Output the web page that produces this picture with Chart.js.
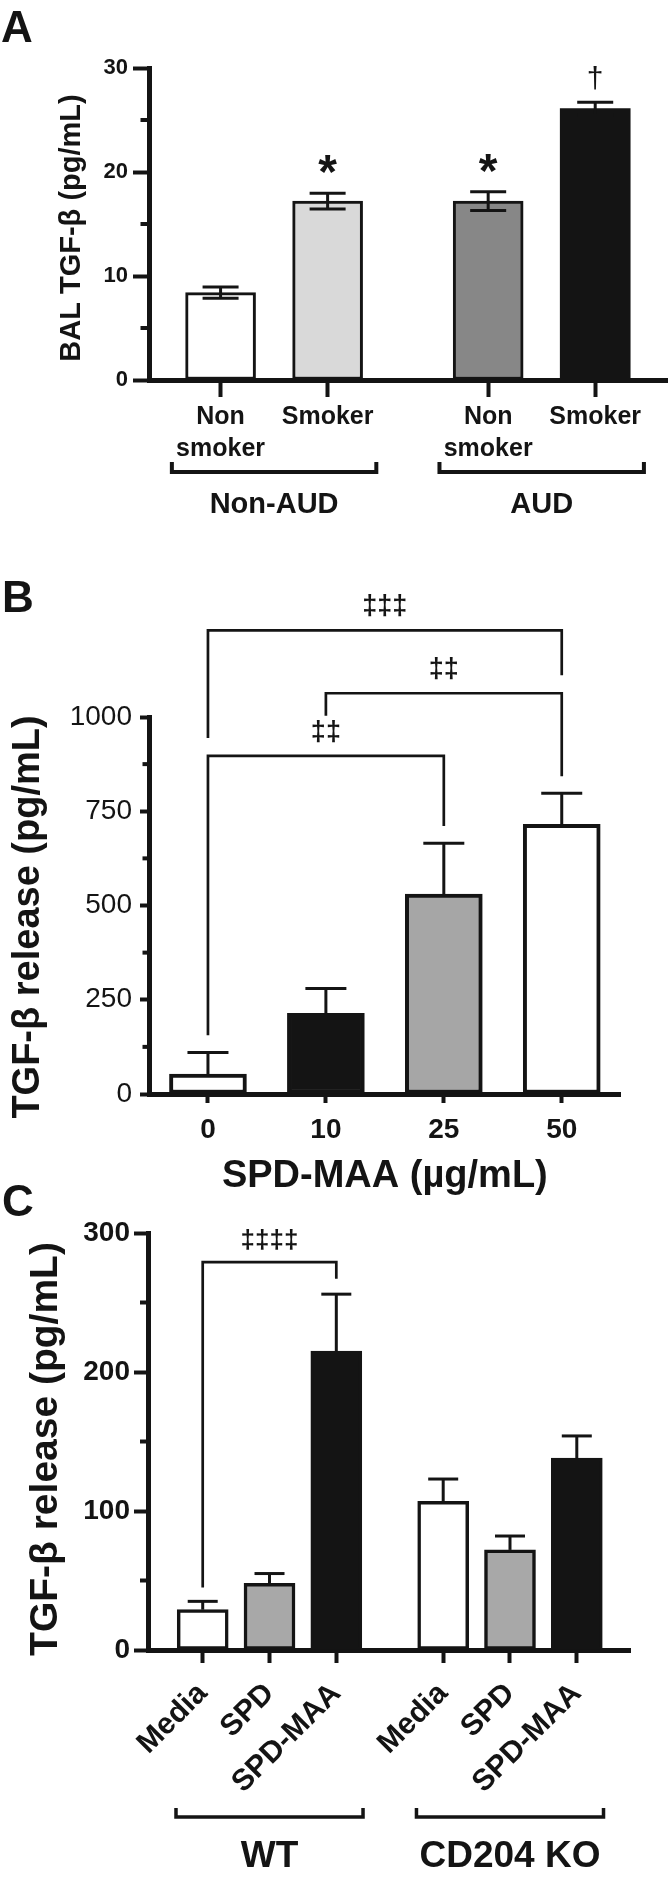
<!DOCTYPE html>
<html>
<head>
<meta charset="utf-8">
<script src="https://cdn.jsdelivr.net/npm/chart.js@4"></script>
<style>
  body { margin: 0; background: #fff; }
  #page { position: relative; width: 668px; height: 1882px; }
  canvas { position: absolute; left: 0; }
</style>
</head>
<body>
<div id="page">
  <canvas id="chartA" width="668" height="560" style="top:0"></canvas>
  <canvas id="chartB" width="668" height="650" style="top:560px"></canvas>
  <canvas id="chartC" width="668" height="702" style="top:1180px"></canvas>
</div>
<script>
// ---- panel A: BAL TGF-beta
const aCats = ['Non smoker', 'Smoker', 'Non smoker', 'Smoker'];
const aGroupOf = [0, 0, 1, 1];
const aGroups = ['Non-AUD', 'AUD'];
const aMean = [8.4, 17.2, 17.2, 26.1];
const aSem = [0.55, 0.75, 0.9, 0.6];
const aSig = ['', '*', '*', '†'];

// ---- panel B: SPD-MAA dose
const bDose = ['0', '10', '25', '50'];
const bMean = [53, 214, 530, 715];
const bSem = [57, 66, 135, 83];
const bFrom = [0, 1, 0];
const bTo = [3, 3, 2];
const bLevel = [1230, 1063, 897];
const bLegs = [[944, 1111], [1003, 843], [156, 711]];
const bMarks = ['‡‡‡', '‡‡', '‡‡'];

// ---- panel C: WT vs CD204 KO
const cCats = ['Media', 'SPD', 'SPD-MAA', 'Media', 'SPD', 'SPD-MAA'];
const cGroupOf = [0, 0, 0, 1, 1, 1];
const cGroups = ['WT', 'CD204 KO'];
const cMean = [29, 48, 215, 107, 72, 138];
const cSem = [6, 7, 41, 16, 10, 16];
const cFrom = [0];
const cTo = [2];
const cLevel = [279];
const cLegs = [[45, 267]];
const cMarks = ['‡‡‡‡'];

const ink = '#141414';
const FONT = "'Liberation Sans', Arial, Helvetica, sans-serif";
Chart.defaults.font.family = FONT;
Chart.defaults.color = ink;

// x positions on a linear axis: one unit per bar, plus a gap between groups
const aPos = aCats.map((c, i) => i + aGroupOf[i] * 0.5);
const cPos = cCats.map((c, i) => i + cGroupOf[i] * 0.6);

function line(ctx, x1, y1, x2, y2) {
  ctx.beginPath(); ctx.moveTo(x1, y1); ctx.lineTo(x2, y2); ctx.stroke();
}
// draw text so that its glyph bottom sits at y
function textAbove(ctx, s, x, y) {
  const m = ctx.measureText(s);
  ctx.fillText(s, x, y - m.actualBoundingBoxDescent);
}

const decor = {
  id: 'decor',
  afterDraw(chart, args, o) {
    const ctx = chart.ctx;
    const xs = chart.scales.x, ys = chart.scales.y;
    const bars = chart.getDatasetMeta(0).data;
    ctx.save();
    ctx.strokeStyle = ink; ctx.fillStyle = ink;

    // minor y ticks
    ctx.lineWidth = 4;
    o.minor.forEach(v => {
      const y = ys.getPixelForValue(v);
      line(ctx, xs.left - o.minorLen, y, xs.left, y);
    });

    // error bars
    ctx.lineWidth = 3;
    o.sem.forEach((e, i) => {
      const x = bars[i].x, m = o.mean[i];
      const top = ys.getPixelForValue(m + e);
      const low = ys.getPixelForValue(o.both ? m - e : m);
      line(ctx, x, top, x, low);
      line(ctx, x - o.cap / 2, top, x + o.cap / 2, top);
      if (o.both) line(ctx, x - o.cap / 2, low, x + o.cap / 2, low);
    });

    // significance symbols over single bars
    ctx.textAlign = 'center';
    (o.sig || []).forEach((s, i) => {
      if (!s) return;
      const top = ys.getPixelForValue(o.mean[i] + o.sem[i]);
      ctx.font = s === '*' ? 'bold 48px ' + FONT : '30px ' + FONT;
      textAbove(ctx, s, bars[i].x, top - (s === '*' ? 20 : 12));
    });

    // comparison brackets
    if (o.pairs) {
      const p = o.pairs;
      ctx.lineWidth = 2.7;
      ctx.font = 'bold ' + p.size + 'px ' + FONT;
      p.from.forEach((f, k) => {
        const x1 = bars[f].x, x2 = bars[p.to[k]].x;
        const y = ys.getPixelForValue(p.level[k]);
        ctx.beginPath();
        ctx.moveTo(x1, ys.getPixelForValue(p.legs[k][0]));
        ctx.lineTo(x1, y); ctx.lineTo(x2, y);
        ctx.lineTo(x2, ys.getPixelForValue(p.legs[k][1]));
        ctx.stroke();
        textAbove(ctx, p.marks[k], (x1 + x2) / 2, y - p.gap);
      });
    }

    // group brackets under the axis
    if (o.groups) {
      const g = o.groups;
      ctx.lineWidth = g.width;
      ctx.font = 'bold ' + g.size + 'px ' + FONT;
      g.names.forEach((name, k) => {
        const idx = g.of.map((v, i) => v === k ? i : -1).filter(i => i >= 0);
        const x1 = xs.getPixelForValue(g.pos[idx[0]] - g.reach);
        const x2 = xs.getPixelForValue(g.pos[idx[idx.length - 1]] + g.reach);
        ctx.beginPath();
        ctx.moveTo(x1, g.legTop); ctx.lineTo(x1, g.lineY);
        ctx.lineTo(x2, g.lineY); ctx.lineTo(x2, g.legTop);
        ctx.stroke();
        ctx.fillText(name, (x1 + x2) / 2, g.labelY);
      });
    }

    // axis titles
    ctx.textBaseline = 'middle';
    ctx.font = 'bold ' + o.yTitle.size + 'px ' + FONT;
    ctx.save();
    ctx.translate(o.yTitle.x, o.yTitle.y);
    ctx.rotate(-Math.PI / 2);
    ctx.fillText(o.yTitle.text, 0, 0);
    ctx.restore();
    if (o.xTitle) {
      ctx.textBaseline = 'alphabetic';
      ctx.font = 'bold ' + o.xTitle.size + 'px ' + FONT;
      ctx.fillText(o.xTitle.text, (xs.left + xs.right) / 2, o.xTitle.y);
    }

    // panel letter
    ctx.textBaseline = 'alphabetic';
    ctx.textAlign = 'left';
    ctx.font = 'bold 44px ' + FONT;
    ctx.fillText(o.letter.text, o.letter.x, o.letter.y);
    ctx.restore();
  }
};

function yAxis(max, step, width, tickLen, pad, font) {
  return {
    min: 0, max: max,
    afterFit: s => { s.width = width; },
    ticks: { stepSize: step, padding: pad, font: font, color: ink, callback: v => String(v) },
    grid: { drawOnChartArea: false, tickLength: tickLen, tickWidth: 4, tickColor: ink },
    border: { width: 5, color: ink }
  };
}

const baseOpts = {
  responsive: false,
  animation: false,
  events: [],
  plugins: { legend: { display: false }, tooltip: { enabled: false } }
};

// ---------- A ----------
new Chart(document.getElementById('chartA'), {
  type: 'bar',
  data: {
    datasets: [{
      data: aMean.map((m, i) => ({ x: aPos[i], y: m })),
      backgroundColor: ['#ffffff', '#d9d9d9', '#878787', '#141414'],
      borderColor: ink,
      borderWidth: [3, 3, 3, 0],
      borderSkipped: false,
      barThickness: 70
    }]
  },
  options: Object.assign({}, baseOpts, {
    layout: { padding: { top: 68, left: 0, right: 0, bottom: 0 } },
    scales: {
      x: {
        type: 'linear', min: -0.664, max: 4.18, offset: false,
        afterBuildTicks: s => { s.ticks = aPos.map(v => ({ value: v })); },
        afterFit: s => { s.height = 180; s.paddingLeft = 0; s.paddingRight = 0; },
        ticks: {
          autoSkip: false, maxRotation: 0, padding: 4, color: ink,
          font: { size: 25, weight: 'bold', lineHeight: 1.28 },
          callback: (v, i) => aCats[i].split(' ')
        },
        grid: { drawOnChartArea: false, offset: false, tickLength: 17, tickWidth: 4, tickColor: ink },
        border: { width: 5, color: ink }
      },
      y: yAxis(30, 10, 149.5, 16.5, 5, { size: 22, weight: 'bold' })
    },
    plugins: Object.assign({}, baseOpts.plugins, {
      decor: {
        minor: [5, 15, 25], minorLen: 9,
        mean: aMean, sem: aSem, both: true, cap: 36,
        sig: aSig,
        groups: { names: aGroups, of: aGroupOf, pos: aPos, reach: 0.455,
                  lineY: 472, legTop: 462, labelY: 513, size: 29, width: 4 },
        yTitle: { text: 'BAL TGF-β (pg/mL)', x: 72, y: 228, size: 29 },
        letter: { text: 'A', x: 1, y: 42 }
      }
    })
  }),
  plugins: [decor]
});

// ---------- B ----------
new Chart(document.getElementById('chartB'), {
  type: 'bar',
  data: {
    labels: bDose,
    datasets: [{
      data: bMean,
      backgroundColor: ['#ffffff', '#141414', '#a6a6a6', '#ffffff'],
      borderColor: ink,
      borderWidth: 4,
      borderSkipped: false,
      barThickness: 77
    }]
  },
  options: Object.assign({}, baseOpts, {
    layout: { padding: { top: 157, left: 0, right: 47.3, bottom: 0 } },
    scales: {
      x: {
        afterFit: s => { s.height = 116; s.paddingLeft = 0; s.paddingRight = 0; },
        ticks: { padding: 10, color: ink, font: { size: 28, weight: 'bold' } },
        grid: { drawOnChartArea: false, offset: false, tickLength: 9, tickWidth: 4, tickColor: ink },
        border: { width: 5, color: ink }
      },
      y: yAxis(1000, 250, 149, 9, 8, { size: 28, weight: 'normal' })
    },
    plugins: Object.assign({}, baseOpts.plugins, {
      decor: {
        minor: [125, 375, 625, 875], minorLen: 6.5,
        mean: bMean, sem: bSem, both: false, cap: 41,
        pairs: { from: bFrom, to: bTo, level: bLevel, legs: bLegs, marks: bMarks, size: 27, gap: 13 },
        yTitle: { text: 'TGF-β release (pg/mL)', x: 29, y: 357, size: 38 },
        xTitle: { text: 'SPD-MAA (µg/mL)', y: 627, size: 38 },
        letter: { text: 'B', x: 2, y: 52 }
      }
    })
  }),
  plugins: [decor]
});

// ---------- C ----------
new Chart(document.getElementById('chartC'), {
  type: 'bar',
  data: {
    datasets: [{
      data: cMean.map((m, i) => ({ x: cPos[i], y: m })),
      backgroundColor: ['#ffffff', '#a8a8a8', '#141414', '#ffffff', '#a8a8a8', '#141414'],
      borderColor: ink,
      borderWidth: 3.5,
      borderSkipped: false,
      barThickness: 51
    }]
  },
  options: Object.assign({}, baseOpts, {
    layout: { padding: { top: 53, left: 0, right: 37.5, bottom: 0 } },
    scales: {
      x: {
        type: 'linear', min: -0.819, max: 6.404, offset: false,
        afterBuildTicks: s => { s.ticks = cPos.map(v => ({ value: v })); },
        afterFit: s => { s.height = 232; s.paddingLeft = 0; s.paddingRight = 0; },
        ticks: {
          autoSkip: false, minRotation: 45, maxRotation: 45, padding: 13, color: ink,
          font: { size: 30, weight: 'bold' },
          callback: (v, i) => cCats[i]
        },
        grid: { drawOnChartArea: false, offset: false, tickLength: 13, tickWidth: 4, tickColor: ink },
        border: { width: 5, color: ink }
      },
      y: yAxis(300, 100, 148, 14, 4, { size: 28, weight: 'bold' })
    },
    plugins: Object.assign({}, baseOpts.plugins, {
      decor: {
        minor: [50, 150, 250], minorLen: 8,
        mean: cMean, sem: cSem, both: false, cap: 30,
        pairs: { from: cFrom, to: cTo, level: cLevel, legs: cLegs, marks: cMarks, size: 26, gap: 12 },
        groups: { names: cGroups, of: cGroupOf, pos: cPos, reach: 0.4,
                  lineY: 637, legTop: 628, labelY: 687, size: 37, width: 3.5 },
        yTitle: { text: 'TGF-β release (pg/mL)', x: 46, y: 269, size: 39 },
        letter: { text: 'C', x: 2, y: 36 }
      }
    })
  }),
  plugins: [decor]
});
</script>
</body>
</html>
